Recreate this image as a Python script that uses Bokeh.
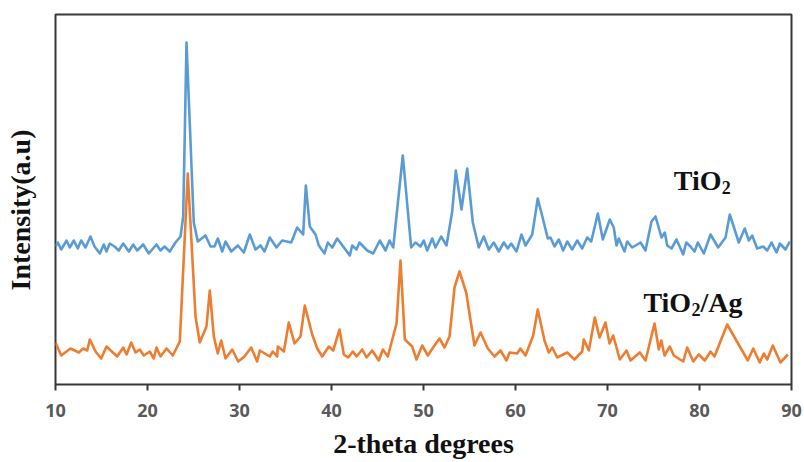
from bokeh.plotting import figure
from bokeh.models import Range1d, FixedTicker
from bokeh.core.properties import value
from bokeh.embed import file_html
from bokeh.resources import INLINE

# 2-theta (degrees) and intensity (a.u.)
tio2_theta = [10.00, 10.25, 10.62, 11.20, 11.55, 11.99, 12.42, 12.79, 13.26, 13.80, 14.24, 14.82, 15.25, 15.54,
              15.90, 16.41, 16.88, 17.36, 17.97, 18.45, 18.88, 19.53, 20.14, 20.98, 21.41, 21.85, 22.42, 23.04,
              23.59, 23.88, 24.24, 25.03, 25.47, 26.30, 26.85, 27.28, 27.64, 28.12, 28.48, 29.10, 29.82, 30.47,
              31.12, 31.74, 32.28, 32.72, 33.29, 34.02, 34.64, 35.62, 36.27, 36.92, 37.21, 37.64, 38.26, 38.62,
              39.24, 39.60, 40.08, 40.62, 41.27, 41.99, 42.25, 42.72, 43.04, 43.88, 44.53, 45.25, 45.87, 46.30,
              46.71, 47.75, 48.66, 49.13, 49.67, 50.03, 50.40, 50.95, 51.30, 51.92, 52.50, 53.12, 53.51, 54.13,
              54.75, 55.36, 56.01, 56.55, 57.10, 57.64, 58.18, 58.73, 59.16, 59.53, 60.11, 60.65, 61.09, 61.82,
              62.42, 63.08, 63.51, 63.80, 64.24, 64.71, 65.18, 65.62, 66.16, 66.71, 67.25, 67.79, 68.23, 68.95,
              69.49, 70.25, 70.68, 70.98, 71.23, 71.85, 72.14, 72.68, 73.59, 74.13, 74.78, 75.22, 75.87, 76.23,
              76.49, 76.96, 77.50, 78.23, 78.55, 79.02, 79.46, 79.82, 80.47, 81.20, 82.03, 82.83, 83.29, 84.27,
              84.92, 85.36, 85.73, 86.27, 86.92, 87.36, 87.83, 88.37, 88.73, 89.35, 89.82]
tio2_int = [138, 142, 135, 144, 137, 144, 136, 144, 137, 148, 138, 131, 140, 133,
            141, 138, 134, 141, 133, 140, 134, 140, 131, 140, 134, 138, 133, 142,
            148, 168, 342, 162, 143, 149, 138, 138, 146, 133, 143, 133, 139, 132,
            150, 135, 139, 133, 147, 137, 144, 142, 157, 150, 199, 158, 150, 139,
            131, 142, 137, 146, 138, 129, 139, 135, 142, 134, 131, 144, 134, 144,
            137, 229, 137, 142, 138, 144, 134, 146, 137, 148, 139, 173, 214, 175,
            216, 162, 137, 148, 135, 142, 133, 142, 136, 141, 133, 150, 139, 150,
            186, 162, 146, 147, 138, 145, 134, 143, 135, 144, 136, 147, 143, 171,
            145, 165, 157, 139, 146, 133, 143, 137, 142, 134, 163, 168, 147, 152,
            139, 136, 145, 130, 142, 138, 133, 142, 131, 150, 137, 147, 170, 142,
            156, 144, 149, 136, 138, 134, 142, 132, 141, 135, 143]

ag_theta = [10.00, 10.62, 11.63, 12.53, 13.01, 13.45, 13.73, 14.35, 14.97, 15.54, 16.71, 17.36, 17.72, 18.23,
            18.70, 19.16, 19.60, 20.25, 20.68, 20.98, 21.41, 22.07, 22.75, 23.51, 24.38, 25.22, 25.68, 26.41,
            26.77, 27.21, 27.64, 28.01, 28.48, 29.21, 29.86, 30.54, 31.27, 31.92, 32.21, 33.29, 33.62, 34.10,
            34.16, 34.82, 35.36, 35.98, 36.63, 37.10, 37.90, 38.45, 38.99, 39.71, 40.18, 40.87, 41.34, 41.82,
            42.32, 42.72, 43.34, 43.80, 44.42, 45.14, 45.58, 46.12, 47.07, 47.50, 47.97, 48.77, 49.24, 49.86,
            50.47, 51.12, 51.74, 52.28, 52.83, 53.37, 53.91, 54.64, 55.54, 56.20, 56.99, 57.72, 58.37, 59.02,
            59.35, 60.18, 60.54, 61.09, 61.92, 62.42, 63.15, 63.62, 63.99, 64.53, 65.62, 66.41, 67.25, 67.42,
            67.97, 68.62, 69.13, 69.78, 70.22, 70.62, 71.34, 72.07, 72.50, 73.51, 74.13, 75.11, 75.58, 75.84,
            76.20, 76.77, 77.21, 78.23, 78.66, 79.32, 79.92, 80.58, 81.20, 81.63, 83.01, 85.25, 85.84, 86.55,
            86.99, 87.36, 87.97, 88.80, 89.60]
ag_int = [42, 29, 36, 32, 36, 34, 45, 33, 26, 38, 28, 37, 30, 42,
          32, 35, 29, 33, 26, 37, 28, 36, 29, 43, 211, 68, 42, 58,
          94, 48, 31, 44, 26, 35, 23, 28, 37, 23, 34, 28, 33, 28,
          38, 33, 62, 41, 48, 79, 50, 36, 28, 38, 34, 55, 30, 27,
          33, 28, 35, 27, 34, 24, 35, 28, 61, 124, 45, 38, 25, 39,
          29, 38, 46, 37, 48, 97, 113, 92, 39, 52, 36, 28, 34, 24,
          32, 31, 36, 29, 49, 75, 44, 32, 37, 27, 32, 25, 33, 45,
          34, 67, 47, 62, 41, 49, 25, 34, 24, 32, 24, 61, 35, 44,
          29, 38, 29, 23, 37, 23, 30, 24, 33, 28, 60, 24, 36, 22,
          31, 25, 39, 22, 30]

x_ticks = [10, 20, 30, 40, 50, 60, 70, 80, 90]

# label anchors (data coordinates)
label_theta = [77.2, 73.9]
label_int = [204, 82]

p = figure(width=804, height=462, output_backend="svg", toolbar_location=None,
           x_range=Range1d(10, 90), y_range=Range1d(0, 370),
           min_border_left=55, min_border_right=13, min_border_top=14, min_border_bottom=78)

p.line(tio2_theta, tio2_int, line_color="#5B9BD5", line_width=2.6, line_join="round")
p.line(ag_theta, ag_int, line_color="#ED7D31", line_width=2.6, line_join="round")

serif = value("Liberation Serif")
# TiO2
p.text(x=[label_theta[0]], y=[label_int[0]], text=["TiO"], text_font=serif, text_font_size="28px",
       text_font_style="bold", text_color="#111111", text_align="left", text_baseline="alphabetic")
p.text(x=[label_theta[0]], y=[label_int[0]], text=["2"], text_font=serif, text_font_size="18px",
       text_font_style="bold", text_color="#111111", text_align="left", text_baseline="alphabetic",
       x_offset=48, y_offset=7)
# TiO2/Ag
p.text(x=[label_theta[1]], y=[label_int[1]], text=["TiO"], text_font=serif, text_font_size="28px",
       text_font_style="bold", text_color="#111111", text_align="left", text_baseline="alphabetic")
p.text(x=[label_theta[1]], y=[label_int[1]], text=["2"], text_font=serif, text_font_size="18px",
       text_font_style="bold", text_color="#111111", text_align="left", text_baseline="alphabetic",
       x_offset=48, y_offset=7)
p.text(x=[label_theta[1]], y=[label_int[1]], text=["/Ag"], text_font=serif, text_font_size="28px",
       text_font_style="bold", text_color="#111111", text_align="left", text_baseline="alphabetic",
       x_offset=57)

p.grid.visible = False
p.outline_line_color = "#383838"
p.outline_line_width = 2

xa = p.xaxis[0]
xa.ticker = FixedTicker(ticks=x_ticks)
xa.minor_tick_line_color = None
xa.major_tick_in = 0
xa.major_tick_out = 6
xa.major_tick_line_color = "#383838"
xa.major_tick_line_width = 2
xa.axis_line_color = None
xa.major_label_text_font = "Open Sans"
xa.major_label_text_font_style = "bold"
xa.major_label_text_font_size = "18px"
xa.major_label_text_color = "#595959"
xa.major_label_standoff = 13
xa.axis_label = "2-theta degrees"
xa.axis_label_text_font = "Liberation Serif"
xa.axis_label_text_font_style = "bold"
xa.axis_label_text_font_size = "28px"
xa.axis_label_text_color = "#111111"
xa.axis_label_standoff = 8

ya = p.yaxis[0]
ya.ticker = FixedTicker(ticks=[])
ya.minor_tick_line_color = None
ya.major_tick_in = 0
ya.major_tick_out = 0
ya.axis_line_color = None
ya.axis_label = "Intensity(a.u)\u00a0\u00a0\u00a0"
ya.axis_label_text_font = "Liberation Serif"
ya.axis_label_text_font_style = "bold"
ya.axis_label_text_font_size = "28px"
ya.axis_label_text_color = "#111111"
ya.axis_label_standoff = 20

open("out.html", "w").write(file_html(p, INLINE))
